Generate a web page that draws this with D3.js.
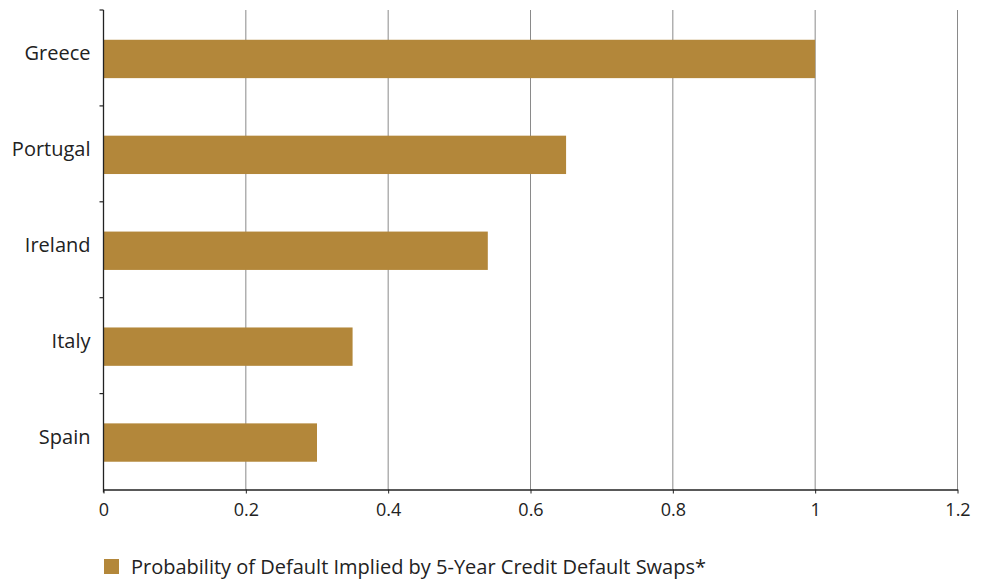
<!DOCTYPE html>
<html><head><meta charset="utf-8">
<script src="https://cdn.jsdelivr.net/npm/d3@7"></script>
<style>body{margin:0;background:#fff;font-family:"Open Sans",sans-serif;}</style>
</head><body><svg id="c" width="982" height="580"></svg>
<script>
const categories = ["Greece","Portugal","Ireland","Italy","Spain"];
const values = [1.0, 0.65, 0.54, 0.35, 0.30];
const xTicks = [0,0.2,0.4,0.6,0.8,1,1.2];
const seriesName = "Probability of Default Implied by 5-Year Credit Default Swaps*";

const svg = d3.select("#c");
const m = {l:103.5, r:957.5, t:10, b:489.5};
const x = d3.scaleLinear().domain([0,1.2]).range([m.l, m.r]);
const y = d3.scaleBand().domain(categories).range([m.t, m.b]).paddingInner(0.6).paddingOuter(0.3);
const color = "#B3873A";

// gridlines
svg.append("g").selectAll("line").data(xTicks.filter(d=>d>0)).join("line")
  .attr("x1",d=>x(d)).attr("x2",d=>x(d)).attr("y1",m.t).attr("y2",m.b)
  .attr("stroke","#8a8a8a").attr("stroke-width",1);

// bars
svg.append("g").selectAll("rect").data(categories).join("rect")
  .attr("x",x(0)).attr("y",d=>y(d)+1).attr("height",y.bandwidth())
  .attr("width",(d,i)=>x(values[i])-x(0)).attr("fill",color);

// x axis
const xa = svg.append("g").attr("transform",`translate(0,${m.b})`)
  .call(d3.axisBottom(x).tickValues(xTicks).tickFormat(d3.format("")).tickSize(4).tickSizeOuter(0));
xa.select(".domain").attr("stroke","#222").attr("stroke-width",1.3);
xa.selectAll(".tick line").attr("stroke","#222");
xa.selectAll("text").attr("font-size",18).attr("fill","#222").attr("font-family","Open Sans").attr("dy","1.1em");

// y axis with ticks between categories
const ya = svg.append("g").attr("transform",`translate(${m.l},0)`);
ya.append("line").attr("x1",0).attr("x2",0).attr("y1",m.t).attr("y2",m.b+3).attr("stroke","#222").attr("stroke-width",1.3);
const step = (m.b-m.t)/categories.length;
const bounds = d3.range(categories.length).map(i=>m.t+i*step);
ya.selectAll("line.t").data(bounds).join("line").attr("class","t")
  .attr("x1",-4).attr("x2",0).attr("y1",d=>d).attr("y2",d=>d).attr("stroke","#222").attr("stroke-width",1.2);
ya.selectAll("text").data(categories).join("text")
  .attr("x",-13).attr("y",d=>y(d)+y.bandwidth()/2-5).attr("dy","0.35em")
  .attr("text-anchor","end").attr("font-size",20).attr("fill","#222").text(d=>d);

// legend
const lg = svg.append("g").attr("transform","translate(104,559)");
lg.append("rect").attr("width",15).attr("height",15).attr("fill",color);
lg.append("text").attr("x",27).attr("y",7.5).attr("dy","0.35em").attr("font-size",20).attr("fill","#222").text(seriesName);
</script></body></html>
